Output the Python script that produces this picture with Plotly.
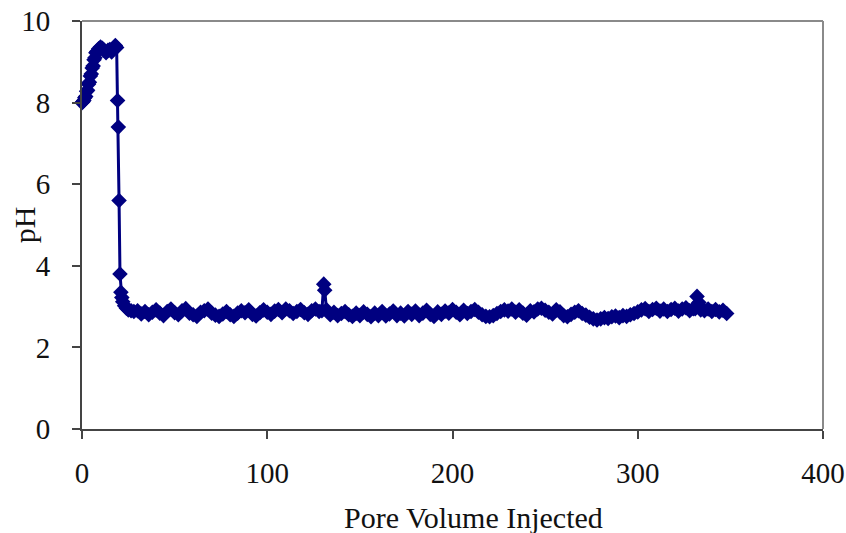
import plotly.graph_objects as go

# Pore volume injected (x) and pH (y)
pv_early = [0, 0.5, 1, 1.5, 2, 2.5, 3, 3.5, 4, 4.5, 5, 5.5, 6, 6.5, 7, 7.5, 8, 9, 10, 11,
            12, 13, 14, 15, 16, 17, 18, 18.7, 19.2, 19.6, 20, 20.5, 21, 21.5, 22, 23, 24, 25, 26.5, 28]
ph_early = [8.0, 8.02, 8.05, 8.12, 8.15, 8.28, 8.3, 8.45, 8.5, 8.65, 8.7, 8.85, 8.9, 9.05, 9.1, 9.22, 9.25, 9.32, 9.36, 9.33,
            9.28, 9.22, 9.28, 9.3, 9.24, 9.32, 9.4, 9.35, 8.05, 7.4, 5.6, 3.8, 3.35, 3.22, 3.12, 3.02, 2.96, 2.92, 2.9, 2.88]

pv_mid1 = [30, 32, 34, 36, 38, 40, 42, 44, 46, 48, 50, 52, 54, 56, 58, 60, 62, 64, 66, 68,
           70, 72, 74, 76, 78, 80, 82, 84, 86, 88, 90, 92, 94, 96, 98, 100, 102, 104, 106, 108,
           110, 112, 114, 116, 118, 120, 122, 124, 126, 128]
ph_mid1 = [2.90, 2.82, 2.88, 2.80, 2.86, 2.92, 2.84, 2.78, 2.88, 2.94,
           2.85, 2.80, 2.90, 2.95, 2.84, 2.80, 2.76, 2.86, 2.90, 2.94,
           2.84, 2.79, 2.76, 2.82, 2.88, 2.80, 2.76, 2.84, 2.90, 2.85,
           2.92, 2.81, 2.77, 2.85, 2.92, 2.86, 2.81, 2.89, 2.93, 2.85,
           2.94, 2.90, 2.83, 2.88, 2.93, 2.85, 2.81, 2.90, 2.94, 2.88]

pv_spike1 = [129.5, 130.5, 131, 132]
ph_spike1 = [2.9, 3.55, 3.4, 2.92]

pv_mid2 = [134, 136, 138, 140, 142, 144, 146, 148, 150, 152, 154, 156, 158, 160, 162, 164, 166, 168, 170, 172,
           174, 176, 178, 180, 182, 184, 186, 188, 190, 192, 194, 196, 198, 200, 202, 204, 206, 208, 210, 212,
           214, 216, 218, 220, 222, 224, 226, 228, 230, 232, 234, 236, 238, 240, 242, 244, 246, 248, 250, 252,
           254, 256, 258, 260, 262, 264, 266, 268, 270, 272, 274, 276, 278, 280, 282, 284, 286, 288, 290, 292,
           294, 296, 298, 300, 302, 304, 306, 308, 310, 312, 314, 316, 318, 320, 322, 324, 326, 328, 330]
ph_mid2 = [2.80, 2.86, 2.78, 2.83, 2.88, 2.80, 2.76, 2.84, 2.78, 2.87,
           2.81, 2.75, 2.84, 2.78, 2.88, 2.77, 2.82, 2.89, 2.78, 2.84,
           2.77, 2.88, 2.81, 2.89, 2.78, 2.84, 2.91, 2.81, 2.76, 2.87,
           2.81, 2.89, 2.84, 2.93, 2.86, 2.80, 2.91, 2.83, 2.88, 2.93,
           2.86, 2.80, 2.76, 2.75, 2.78, 2.83, 2.88, 2.92, 2.89, 2.94,
           2.86, 2.92, 2.84, 2.79, 2.90, 2.87, 2.94, 2.96, 2.91, 2.86,
           2.82, 2.92, 2.87, 2.78, 2.75, 2.81, 2.86, 2.90, 2.83, 2.79,
           2.74, 2.70, 2.67, 2.70, 2.73, 2.71, 2.75, 2.77, 2.73, 2.78,
           2.76, 2.80, 2.83, 2.87, 2.92, 2.95, 2.88, 2.93, 2.96, 2.89,
           2.94, 2.88, 2.93, 2.96, 2.89, 2.94, 2.97, 2.90, 2.95]

pv_spike2 = [331, 332, 333, 334]
ph_spike2 = [2.95, 3.25, 3.1, 2.92]

pv_end = [336, 338, 340, 342, 344, 346, 348]
ph_end = [2.90, 2.94, 2.88, 2.93, 2.87, 2.91, 2.83]

x_ticks = [0, 100, 200, 300, 400]
y_ticks = [0, 2, 4, 6, 8, 10]

pv = pv_early + pv_mid1 + pv_spike1 + pv_mid2 + pv_spike2 + pv_end
ph = ph_early + ph_mid1 + ph_spike1 + ph_mid2 + ph_spike2 + ph_end

NAVY = "#000080"
FONT = "Liberation Serif"

fig = go.Figure()
fig.add_trace(go.Scatter(
    x=pv, y=ph, mode="lines+markers",
    line=dict(color=NAVY, width=3),
    marker=dict(symbol="diamond", size=12, color=NAVY, line=dict(width=0)),
    cliponaxis=False, showlegend=False,
))

fig.update_layout(
    width=846, height=533,
    margin=dict(l=82, r=23, t=21, b=104),
    paper_bgcolor="white", plot_bgcolor="white",
    font=dict(family=FONT, size=29, color="#111"),
    xaxis=dict(range=[0, 400], tickvals=x_ticks, showgrid=False, zeroline=False,
               showline=True, linecolor="#444", linewidth=2, automargin=False,
               ticks="outside", ticklen=8, tickwidth=1.5, tickcolor="#444",
               ticklabelstandoff=9, tickfont=dict(family=FONT, size=29)),
    yaxis=dict(range=[0, 10], tickvals=y_ticks, showgrid=False, zeroline=False,
               showline=True, linecolor="#444", linewidth=2, automargin=False,
               ticks="outside", ticklen=8, tickwidth=1.5, tickcolor="#444",
               ticklabelstandoff=16, tickfont=dict(family=FONT, size=29)),
    shapes=[
        dict(type="line", xref="paper", yref="paper", x0=0, x1=1, y0=1, y1=1,
             line=dict(color="#8a8a8a", width=2)),
        dict(type="line", xref="paper", yref="paper", x0=1, x1=1, y0=0, y1=1,
             line=dict(color="#8a8a8a", width=2)),
    ],
    annotations=[
        dict(text="Pore Volume Injected", xref="paper", yref="paper", x=0.5285, y=-0.216,
             xanchor="center", yanchor="middle", showarrow=False,
             font=dict(family=FONT, size=30, color="#111")),
        dict(text="pH", xref="paper", yref="paper", x=-0.078, y=0.5, textangle=-90,
             xanchor="center", yanchor="middle", showarrow=False,
             font=dict(family=FONT, size=30, color="#111")),
    ],
)

fig.write_html("out.html")
